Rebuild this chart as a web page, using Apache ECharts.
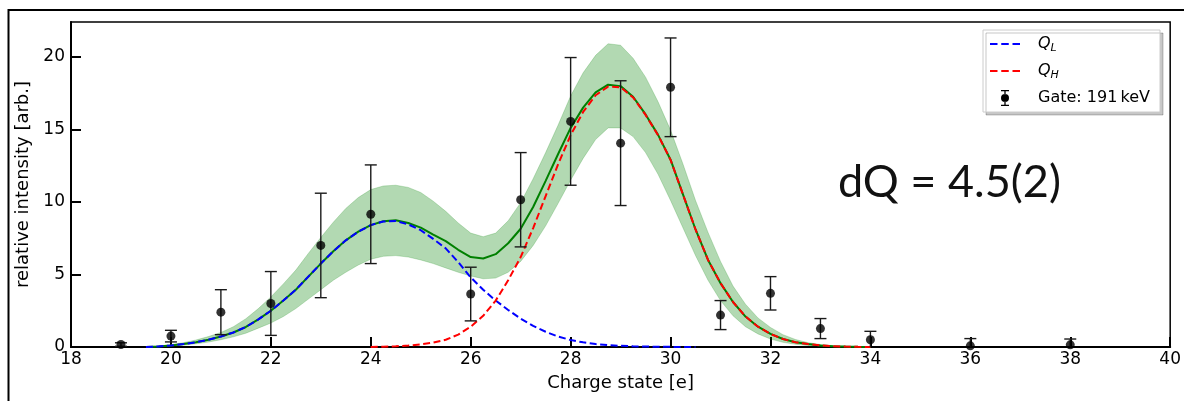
<!DOCTYPE html>
<html>
<head>
<meta charset="utf-8">
<script src="https://cdn.jsdelivr.net/npm/echarts@6/dist/echarts.min.js"></script>
<style>
  html, body { margin: 0; padding: 0; background: #fff; }
  #chart { width: 1184px; height: 401px; }
</style>
</head>
<body>
<div id="chart"></div>
<script>
// Measured charge-state yields with uncertainties
const chargeState = [19, 20, 21, 22, 23, 24, 26, 27, 28, 29, 30, 31, 32, 33, 34, 36, 38];
const intensity = [0.17, 0.75, 2.4, 3.0, 7.0, 9.15, 3.65, 10.15, 15.55, 14.05, 17.9, 2.2, 3.7, 1.27, 0.5, 0.08, 0.15];
const intensityErr = [0.12, 0.4, 1.55, 2.2, 3.6, 3.4, 1.85, 3.25, 4.4, 4.3, 3.4, 1.0, 1.15, 0.69, 0.58, 0.5, 0.4];

// Fitted components sampled on a common charge grid
const fitX = [19.5, 19.75, 20, 20.25, 20.5, 20.75, 21, 21.25, 21.5, 21.75,
  22, 22.25, 22.5, 22.75, 23, 23.25, 23.5, 23.75, 24, 24.25,
  24.5, 24.75, 25, 25.25, 25.5, 25.75, 26, 26.25, 26.5, 26.75,
  27, 27.25, 27.5, 27.75, 28, 28.25, 28.5, 28.75, 29, 29.25,
  29.5, 29.75, 30, 30.25, 30.5, 30.75, 31, 31.25, 31.5, 31.75,
  32, 32.25, 32.5, 32.75, 33, 33.25, 33.5, 33.75, 34];

const fitLow = [0.00, 0.04, 0.10, 0.20, 0.33, 0.50, 0.72, 1.00, 1.38, 1.90,
  2.50, 3.20, 3.95, 4.85, 5.75, 6.60, 7.35, 7.95, 8.40, 8.65,
  8.68, 8.45, 8.05, 7.45, 6.80, 5.85, 4.80, 3.95, 3.20, 2.55,
  1.95, 1.45, 1.05, 0.72, 0.48, 0.32, 0.20, 0.13, 0.08, 0.05,
  0.03, 0.02, 0.01, 0.00, 0.00, null, null, null, null, null,
  null, null, null, null, null, null, null, null, null];

const fitHigh = [null, null, null, null, null, null, null, null, null, null,
  null, null, null, null, null, null, null, null, 0.00, 0.02,
  0.05, 0.10, 0.18, 0.30, 0.50, 0.85, 1.40, 2.15, 3.20, 4.60,
  6.20, 8.20, 10.40, 12.60, 14.60, 16.20, 17.35, 17.95, 17.90, 17.20,
  16.00, 14.60, 12.90, 10.50, 8.10, 6.00, 4.40, 3.10, 2.10, 1.40,
  0.90, 0.55, 0.33, 0.20, 0.11, 0.06, 0.03, 0.01, 0.00];

const fitTotal = [0.00, 0.04, 0.10, 0.20, 0.33, 0.50, 0.72, 1.00, 1.38, 1.90,
  2.50, 3.20, 3.95, 4.85, 5.75, 6.60, 7.35, 7.95, 8.40, 8.67,
  8.73, 8.55, 8.23, 7.75, 7.30, 6.70, 6.20, 6.10, 6.40, 7.15,
  8.15, 9.65, 11.45, 13.30, 15.10, 16.50, 17.55, 18.08, 17.98, 17.25,
  16.03, 14.62, 12.91, 10.50, 8.10, 6.00, 4.40, 3.10, 2.10, 1.40,
  0.90, 0.55, 0.33, 0.20, 0.11, 0.06, 0.03, 0.01, 0.00];

const bandLo = [0.00, 0.02, 0.06, 0.12, 0.22, 0.34, 0.50, 0.70, 0.95, 1.30,
  1.65, 2.10, 2.65, 3.30, 3.95, 4.60, 5.15, 5.65, 6.05, 6.25,
  6.30, 6.20, 6.00, 5.75, 5.45, 5.15, 4.90, 4.70, 4.75, 5.15,
  5.90, 7.00, 8.35, 9.90, 11.50, 13.00, 14.30, 15.10, 15.10, 14.50,
  13.40, 11.90, 10.10, 8.20, 6.30, 4.60, 3.20, 2.15, 1.40, 0.90,
  0.55, 0.32, 0.19, 0.10, 0.05, 0.03, 0.01, 0.00, 0.00];

const bandHi = [0.02, 0.07, 0.16, 0.30, 0.48, 0.72, 1.00, 1.40, 1.95, 2.65,
  3.45, 4.35, 5.30, 6.45, 7.55, 8.60, 9.55, 10.30, 10.85, 11.10,
  11.15, 11.00, 10.65, 10.05, 9.35, 8.55, 7.85, 7.60, 7.85, 8.70,
  9.95, 11.60, 13.40, 15.30, 17.30, 18.90, 20.10, 20.90, 20.80, 19.90,
  18.60, 16.90, 14.95, 12.60, 10.10, 7.90, 5.90, 4.20, 2.95, 2.00,
  1.35, 0.85, 0.52, 0.30, 0.17, 0.09, 0.05, 0.02, 0.01];

const xTicks = { min: 18, max: 40, step: 2 };
const yTicks = { min: 0, max: 22.4, step: 5 };
const legendNames = ['QL', 'QH', 'Gate: 191\u2009keV'];
const annotation = 'dQ = 4.5(2)';

function pairs(values) {
  return fitX.map((x, i) => [x, values[i]]).filter(p => p[1] !== null);
}

const baseFont = 'DejaVu Sans';
// legend glyphs: dashed stroke, and a dot with error bar and caps
const dashedIcon = 'path://M0,7H7V9H0Z M10.5,7H17.5V9H10.5Z M21,7H28V9H21Z';
const errorbarIcon = 'path://M2,0H10V1.3H2Z M5.35,0H6.65V4.2H5.35Z M5.35,11.8H6.65V16H5.35Z M2,14.7H10V16H2Z M2,8A4,4 0 1,0 10,8A4,4 0 1,0 2,8Z';

const chart = echarts.init(document.getElementById('chart'), null, { renderer: 'canvas' });

const option = {
  animation: false,
  backgroundColor: '#fff',
  grid: {
    left: 71, right: 13, top: 22, bottom: 54,
    show: true, borderColor: '#000', borderWidth: 1.5, backgroundColor: 'transparent'
  },
  xAxis: {
    type: 'value', min: xTicks.min, max: xTicks.max, interval: xTicks.step,
    name: 'Charge state [e]', nameLocation: 'middle', nameGap: 27,
    nameTextStyle: { fontFamily: baseFont, fontSize: 18, color: '#000' },
    axisLine: { lineStyle: { color: '#000', width: 2 } },
    axisTick: { inside: true, length: 10, lineStyle: { color: '#000', width: 2 } },
    axisLabel: { fontFamily: baseFont, fontSize: 17, color: '#000', margin: 4 },
    splitLine: { show: false }
  },
  yAxis: {
    type: 'value', min: yTicks.min, max: yTicks.max, interval: yTicks.step,
    name: 'relative intensity [arb.]', nameLocation: 'middle', nameGap: 34,
    nameTextStyle: { fontFamily: baseFont, fontSize: 18, color: '#000' },
    axisLine: { lineStyle: { color: '#000', width: 2 } },
    axisTick: { inside: true, length: 10, lineStyle: { color: '#000', width: 2 } },
    axisLabel: { fontFamily: baseFont, fontSize: 17, color: '#000', margin: 6, showMaxLabel: false },
    splitLine: { show: false }
  },
  legend: {
    orient: 'vertical', left: 983, top: 30,
    backgroundColor: '#fff', borderColor: '#cccccc', borderWidth: 1, borderRadius: 0,
    shadowColor: 'rgba(0,0,0,0.22)', shadowOffsetX: 3, shadowOffsetY: 3, shadowBlur: 0,
    padding: [6, 10, 6, 7], itemGap: 9, itemWidth: 30, itemHeight: 16,
    textStyle: {
      fontFamily: baseFont, fontSize: 16, color: '#000', padding: [0, 0, 0, 13],
      rich: {
        q: { fontFamily: baseFont, fontSize: 16, fontStyle: 'italic', color: '#000' },
        s: { fontFamily: baseFont, fontSize: 11, fontStyle: 'italic', color: '#000', padding: [9, 0, 0, 0] }
      }
    },
    formatter: function (name) {
      if (name === 'QL') return '{q|Q}{s|L}';
      if (name === 'QH') return '{q|Q}{s|H}';
      return name;
    },
    data: [
      { name: legendNames[0], icon: dashedIcon },
      { name: legendNames[1], icon: dashedIcon },
      { name: legendNames[2], icon: errorbarIcon }
    ]
  },
  graphic: [
    {
      type: 'rect', silent: true, z: 100,
      shape: { x: 8.5, y: 10, width: 1300, height: 600 },
      style: { fill: 'none', stroke: '#000', lineWidth: 2 }
    },
    {
      type: 'text', silent: true, z: 100, left: 838, top: 160,
      style: { text: annotation, fontFamily: 'Lato', fontSize: 45, fill: '#111' }
    }
  ],
  series: [
    {
      type: 'custom', name: 'uncertainty band', silent: true, z: 1,
      data: [[fitX[0], 0]],
      renderItem: function (params, api) {
        const pts = [];
        for (let i = 0; i < fitX.length; i++) pts.push(api.coord([fitX[i], bandHi[i]]));
        for (let i = fitX.length - 1; i >= 0; i--) pts.push(api.coord([fitX[i], bandLo[i]]));
        return {
          type: 'polygon', shape: { points: pts },
          style: { fill: 'rgba(0,128,0,0.3)', stroke: 'rgba(0,128,0,0.2)', lineWidth: 1 }
        };
      }
    },
    {
      type: 'line', name: 'total fit', z: 2, data: pairs(fitTotal),
      symbol: 'none', showSymbol: false, silent: true,
      lineStyle: { color: '#008000', width: 2 }, itemStyle: { color: '#008000' }
    },
    {
      type: 'line', name: legendNames[0], z: 3, data: pairs(fitLow),
      symbol: 'none', showSymbol: false, silent: true,
      lineStyle: { color: '#0000ff', width: 2, type: [7, 3.5] }, itemStyle: { color: '#0000ff' }
    },
    {
      type: 'line', name: legendNames[1], z: 4, data: pairs(fitHigh),
      symbol: 'none', showSymbol: false, silent: true,
      lineStyle: { color: '#ff0000', width: 2, type: [7, 3.5] }, itemStyle: { color: '#ff0000' }
    },
    {
      type: 'custom', name: legendNames[2], z: 5, silent: true,
      itemStyle: { color: '#000' },
      data: chargeState.map((x, i) => [x, intensity[i], intensityErr[i]]),
      encode: { x: 0, y: 1 },
      renderItem: function (params, api) {
        const x = api.value(0), y = api.value(1), e = api.value(2);
        const cs = params.coordSys;
        const axisY = cs.y + cs.height;
        const top = api.coord([x, y + e]);
        const bot = api.coord([x, y - e]);
        const half = 6;
        const style = { stroke: '#1a1a1a', lineWidth: 1.4 };
        const children = [
          { type: 'line', shape: { x1: top[0], y1: top[1], x2: bot[0], y2: Math.min(bot[1], axisY) }, style: style },
          { type: 'line', shape: { x1: top[0] - half, y1: top[1], x2: top[0] + half, y2: top[1] }, style: style }
        ];
        if (bot[1] <= axisY) {
          children.push({ type: 'line', shape: { x1: bot[0] - half, y1: bot[1], x2: bot[0] + half, y2: bot[1] }, style: style });
        }
        return { type: 'group', children: children };
      }
    },
    {
      type: 'scatter', name: legendNames[2], z: 6, silent: true,
      data: chargeState.map((x, i) => [x, intensity[i]]),
      symbol: 'circle', symbolSize: 9, itemStyle: { color: '#000' }
    }
  ]
};

chart.setOption(option);
</script>
</body>
</html>
